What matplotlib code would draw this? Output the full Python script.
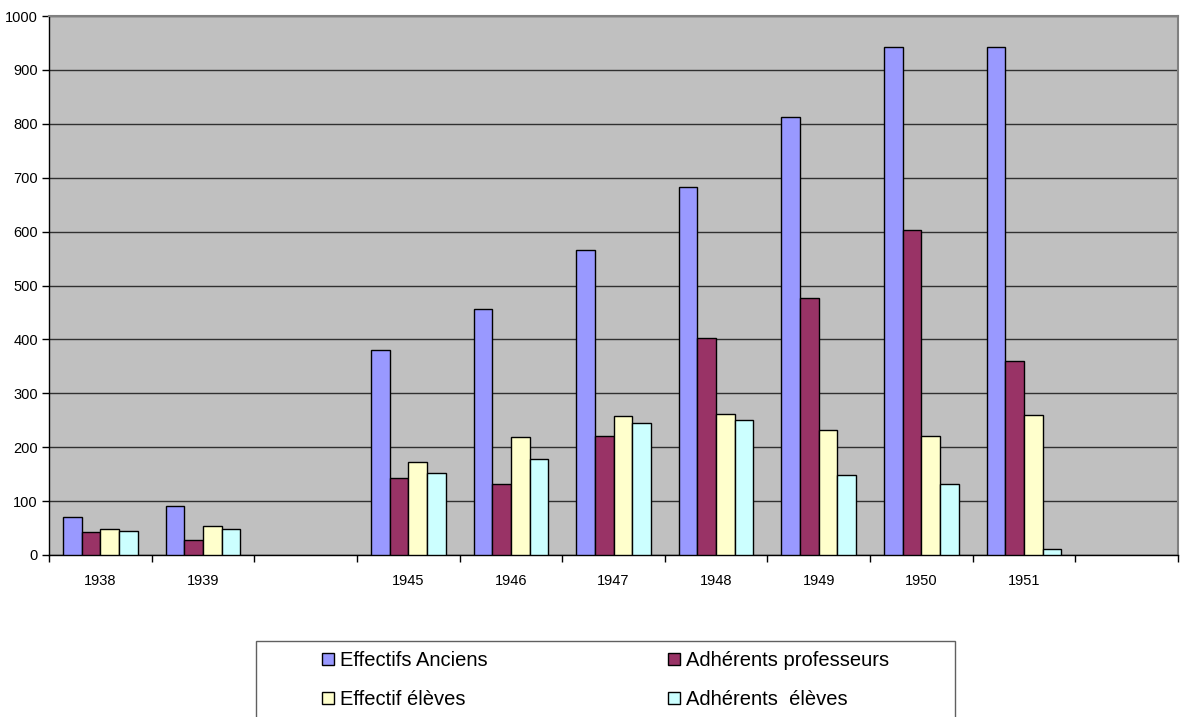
import matplotlib
matplotlib.use("Agg")
import matplotlib.pyplot as plt
import numpy as np
from matplotlib.patches import Rectangle

plt.rcParams["font.family"] = ["Liberation Sans", "DejaVu Sans"]

years = ["1938", "1939", "", "1945", "1946", "1947", "1948", "1949", "1950", "1951", ""]
effectifs_anciens = [70, 91, np.nan, 380, 457, 566, 682, 813, 942, 942, np.nan]
adherents_professeurs = [42, 28, np.nan, 143, 132, 220, 402, 476, 603, 360, np.nan]
effectif_eleves = [49, 54, np.nan, 173, 219, 258, 262, 232, 221, 259, np.nan]
adherents_eleves = [44, 49, np.nan, 153, 179, 245, 250, 148, 132, 11, np.nan]

series = [
    ("Effectifs Anciens", effectifs_anciens, "#9999FF"),
    ("Adhérents professeurs", adherents_professeurs, "#993366"),
    ("Effectif élèves", effectif_eleves, "#FFFFCC"),
    ("Adhérents  élèves", adherents_eleves, "#CCFFFF"),
]

W, H = 1182, 717
fig = plt.figure(figsize=(W / 100, H / 100), dpi=100)
ax = fig.add_axes([49 / W, 1 - 555 / H, (1178 - 49) / W, (555 - 16) / H])
ax.set_facecolor("#C0C0C0")

n = len(years)
centers = np.arange(n) + 0.5
bw = 1 / 5.5
handles = []
for i, (name, vals, col) in enumerate(series):
    xs = centers + (i - 1.5) * bw
    b = ax.bar(xs, vals, width=bw, color=col, edgecolor="black", linewidth=1.0, label=name, zorder=3)
    handles.append(b)

ax.set_xlim(0, n)
ax.set_ylim(0, 1000)
ax.set_yticks(np.arange(0, 1001, 100))
ax.yaxis.grid(True, color="#303030", linewidth=1.0, zorder=1)
ax.set_axisbelow(True)

ax.set_xticks(np.arange(0, n + 1))
ax.set_xticklabels([""] * (n + 1))
ax.set_xticks(centers, minor=True)
ax.set_xticklabels(years, minor=True)
ax.tick_params(axis="x", which="major", length=5, direction="out", width=1)
ax.tick_params(axis="x", which="minor", length=0, pad=14, labelsize=10.5)
ax.tick_params(axis="y", length=5, direction="out", width=1, pad=3, labelsize=10.5)

for s in ["left", "bottom"]:
    ax.spines[s].set_color("black")
    ax.spines[s].set_linewidth(1.0)
for s in ["top", "right"]:
    ax.spines[s].set_color("#808080")
    ax.spines[s].set_linewidth(1.5)

# legend frame, cut by the bottom of the picture
fig.patches.append(Rectangle((256 / W, -0.05), (955 - 256) / W, 0.05 + (717 - 641) / H,
                             transform=fig.transFigure, facecolor="white",
                             edgecolor="#606060", linewidth=1.0))
# row-wise order like the original legend
order = [0, 2, 1, 3]
fig.legend(handles=[handles[k] for k in order], loc="upper left",
           bbox_to_anchor=(322 / W, 1 - 651 / H),
           ncol=2, frameon=False, fontsize=14.5, handlelength=0.6, handleheight=0.6,
           handletextpad=0.3, columnspacing=8.95, labelspacing=1.0, borderpad=0,
           borderaxespad=0)

fig.savefig("out.png", dpi=100)
